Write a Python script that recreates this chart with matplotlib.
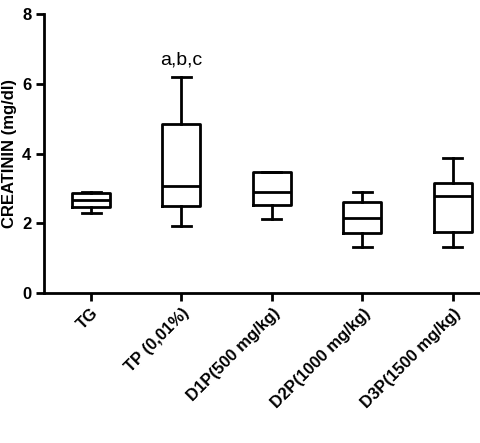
import matplotlib
matplotlib.use("Agg")
import matplotlib.pyplot as plt
plt.rcParams["font.family"] = ["Liberation Sans", "DejaVu Sans"]

labels = ["TG", "TP (0,01%)", "D1P(500 mg/kg)", "D2P(1000 mg/kg)", "D3P(1500 mg/kg)"]
whislo = [2.30, 1.92, 2.12, 1.32, 1.32]
q1 = [2.46, 2.49, 2.52, 1.72, 1.75]
med = [2.66, 3.07, 2.89, 2.15, 2.78]
q3 = [2.87, 4.84, 3.47, 2.61, 3.15]
whishi = [2.90, 6.19, 3.47, 2.89, 3.87]

stats = [dict(whislo=a, q1=b, med=c, q3=d, whishi=e, label=l)
         for a, b, c, d, e, l in zip(whislo, q1, med, q3, whishi, labels)]

fig = plt.figure(figsize=(4.8, 4.43), dpi=100)
ax = fig.add_axes([44/480, 1-293/443, 436/480, 279/443])
lw = 2
ax.bxp(stats, positions=range(5), widths=0.42, showfliers=False,
       boxprops=dict(linewidth=lw), medianprops=dict(color="black", linewidth=lw),
       whiskerprops=dict(linewidth=lw), capprops=dict(linewidth=lw))
ax.set_xlim(-0.52, 4.3)
ax.set_ylim(0, 8)
ax.set_yticks([0, 2, 4, 6, 8])
for s in ["top", "right"]:
    ax.spines[s].set_visible(False)
ax.spines["left"].set_linewidth(2)
ax.spines["bottom"].set_linewidth(2)
ax.tick_params(width=2, length=6, labelsize=12, pad=3)
ax.set_xticklabels(labels, rotation=45, ha="right", rotation_mode="anchor", fontweight="bold")
for t in ax.get_yticklabels():
    t.set_fontweight("bold")
ax.set_ylabel("CREATININ (mg/dl)", fontweight="bold", fontsize=12, labelpad=4)
ax.text(1, 6.45, "a,b,c", ha="center", va="bottom", fontsize=14)
fig.savefig("out.png", dpi=100)
